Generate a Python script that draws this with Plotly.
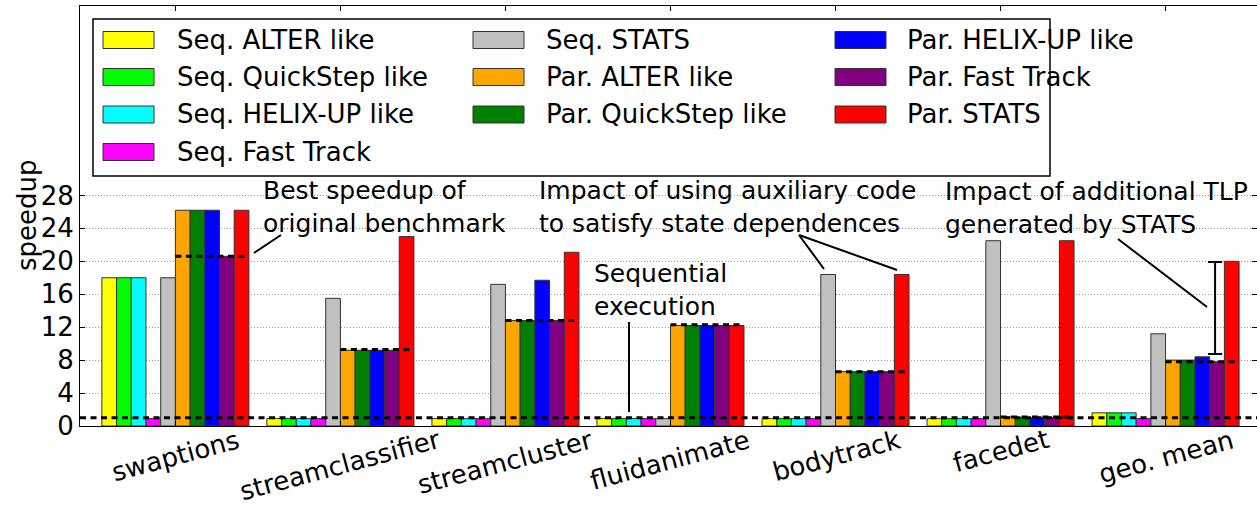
import plotly.graph_objects as go

# ---------------- data ----------------
benchmarks = ["swaptions", "streamclassifier", "streamcluster", "fluidanimate",
              "bodytrack", "facedet", "geo. mean"]
series_names = ["Seq. ALTER like", "Seq. QuickStep like", "Seq. HELIX-UP like",
                "Seq. Fast Track", "Seq. STATS", "Par. ALTER like",
                "Par. QuickStep like", "Par. HELIX-UP like", "Par. Fast Track",
                "Par. STATS"]
series_colors = ["#ffff00", "#00ff00", "#00ffff", "#ff00ff", "#c0c0c0",
                 "#ffa500", "#008000", "#0000ff", "#800080", "#ff0000"]

seq_alter = [18.0, 0.9, 0.9, 0.9, 0.9, 0.9, 1.6]
seq_quickstep = [18.0, 0.9, 0.9, 0.9, 0.9, 0.9, 1.6]
seq_helix = [18.0, 0.9, 0.9, 0.9, 0.9, 0.9, 1.6]
seq_fasttrack = [0.9, 0.9, 0.9, 0.9, 0.9, 0.9, 0.9]
seq_stats = [18.0, 15.5, 17.2, 0.9, 18.4, 22.5, 11.2]
par_alter = [26.2, 9.2, 12.8, 12.2, 6.6, 1.1, 8.0]
par_quickstep = [26.2, 9.2, 12.8, 12.2, 6.6, 1.0, 8.0]
par_helix = [26.2, 9.2, 17.7, 12.2, 6.6, 1.0, 8.4]
par_fasttrack = [20.6, 9.2, 12.8, 12.2, 6.6, 1.0, 7.8]
par_stats = [26.2, 23.0, 21.1, 12.2, 18.4, 22.5, 20.0]

series_values = [seq_alter, seq_quickstep, seq_helix, seq_fasttrack, seq_stats,
                 par_alter, par_quickstep, par_helix, par_fasttrack, par_stats]

original_best = [20.6, 9.3, 12.8, 12.3, 6.6, 1.1, 7.8]   # dashed segments
sequential_baseline = 1.0
tlp_low, tlp_high = 8.75, 19.9                            # I-beam on geo. mean

y_ticks = [0, 4, 8, 12, 16, 20, 24, 28]

# ---------------- layout constants ----------------
W, H = 1257, 506
ML, MR, MT, MB = 80, 0, 6, 80
X_RANGE = [-0.578, 6.554]
Y_RANGE = [0, 51]
FONT = "DejaVu Sans"
BAR_GAP = 0.109
half_group = (1 - BAR_GAP) / 2

pw = W - ML - MR
ph = H - MT - MB


def px2x(px):
    return X_RANGE[0] + (px - ML) / pw * (X_RANGE[1] - X_RANGE[0])


def px2y(py):
    return ((H - MB) - py) / ph * (Y_RANGE[1] - Y_RANGE[0])


def px2paper_x(px):
    return (px - ML) / pw


def px2paper_y(py):
    return ((H - MB) - py) / ph


xs = list(range(len(benchmarks)))

fig = go.Figure()
for name, color, vals in zip(series_names, series_colors, series_values):
    fig.add_trace(go.Bar(x=xs, y=vals, name=name, marker_color=color,
                         marker_line_color="#333333", marker_line_width=1,
                         showlegend=False))

DASH = dict(color="black", width=3, dash="6px,4.5px")
# baseline dashed line at speedup 1
fig.add_trace(go.Scatter(x=X_RANGE, y=[sequential_baseline] * 2, mode="lines",
                         line=DASH, showlegend=False, hoverinfo="skip"))

# dashed segments showing best speedup of original benchmark
for i, v in enumerate(original_best):
    fig.add_trace(go.Scatter(x=[i, i + half_group], y=[v, v], mode="lines",
                             line=DASH, showlegend=False, hoverinfo="skip"))

# I-beam for additional TLP
fig.add_trace(go.Scatter(x=[6.3], y=[(tlp_low + tlp_high) / 2], mode="markers",
                         marker=dict(size=1, color="rgba(0,0,0,0)"),
                         error_y=dict(type="data", array=[(tlp_high - tlp_low) / 2],
                                      color="black", thickness=2, width=7),
                         showlegend=False, hoverinfo="skip"))

annotations = []
# x category labels (rotated, centered)
for i, b in enumerate(benchmarks):
    annotations.append(dict(x=i, y=0, xref="x", yref="paper", text=b,
                            showarrow=False, textangle=-15, xanchor="center",
                            yanchor="top", yshift=3, borderpad=0,
                            font=dict(family=FONT, size=26, color="black")))
# y title
annotations.append(dict(x=px2paper_x(27), y=px2paper_y(215), xref="paper",
                        yref="paper", text="speedup", showarrow=False,
                        textangle=-90, xanchor="center", yanchor="middle",
                        font=dict(family=FONT, size=26, color="black")))

text_font = dict(family=FONT, size=25, color="black")
notes = [
    ("Best speedup of<br>original benchmark", 261, 207),
    ("Impact of using auxiliary code<br>to satisfy state dependences", 537, 207),
    ("Sequential<br>execution", 592, 290),
    ("Impact of additional TLP<br>generated by STATS", 943, 208),
]
for t, px, py in notes:
    annotations.append(dict(x=px2x(px), y=px2y(py), xref="x", yref="y", text=t,
                            showarrow=False, xanchor="left", yanchor="middle",
                            align="left", font=text_font))

shapes = []
lines_px = [
    ((254, 253), (281, 235)),
    ((799, 235), (824, 269)),
    ((799, 235), (897, 270)),
    ((629, 322), (629, 412)),
    ((1118, 239), (1207, 307)),
]
for (x0, y0), (x1, y1) in lines_px:
    shapes.append(dict(type="line", xref="x", yref="y", x0=px2x(x0), y0=px2y(y0),
                       x1=px2x(x1), y1=px2y(y1), line=dict(color="black", width=2)))

# manual legend
shapes.append(dict(type="rect", xref="paper", yref="paper",
                   x0=px2paper_x(93), x1=px2paper_x(1050),
                   y0=px2paper_y(176), y1=px2paper_y(19),
                   line=dict(color="black", width=1.5), fillcolor="white"))
col_sw_x = [103, 473, 835]
col_tx_x = [175, 544, 905]
row_y = [40, 77, 114.5, 152]
col_of = [0, 0, 0, 0, 1, 1, 1, 2, 2, 2]
row_of = [0, 1, 2, 3, 0, 1, 2, 0, 1, 2]
for k, (name, color) in enumerate(zip(series_names, series_colors)):
    c, r = col_of[k], row_of[k]
    sx, cy = col_sw_x[c], row_y[r]
    shapes.append(dict(type="rect", xref="paper", yref="paper",
                       x0=px2paper_x(sx), x1=px2paper_x(sx + 51),
                       y0=px2paper_y(cy + 8.5), y1=px2paper_y(cy - 8.5),
                       line=dict(color="#333333", width=1), fillcolor=color))
    annotations.append(dict(x=px2paper_x(col_tx_x[c]), y=px2paper_y(cy),
                            xref="paper", yref="paper", text=name,
                            showarrow=False, xanchor="left", yanchor="middle",
                            font=dict(family=FONT, size=26, color="black")))

fig.update_layout(
    width=W, height=H, autosize=False,
    margin=dict(l=ML, r=MR, t=MT, b=MB, pad=0),
    barmode="group", bargap=BAR_GAP, bargroupgap=0,
    plot_bgcolor="white", paper_bgcolor="white",
    font=dict(family=FONT, color="black"),
    annotations=annotations, shapes=shapes, showlegend=False,
)
fig.update_xaxes(range=X_RANGE, tickvals=xs, showticklabels=False,
                 ticks="inside", ticklen=5, tickcolor="black",
                 showline=True, linecolor="black", linewidth=1, mirror="ticks",
                 showgrid=False, zeroline=False)
fig.update_yaxes(range=Y_RANGE, tickvals=y_ticks, ticks="inside", ticklen=5,
                 tickcolor="black", tickfont=dict(family=FONT, size=26, color="black"),
                 showline=True, linecolor="black", linewidth=1, mirror="ticks",
                 showgrid=True, gridcolor="#999999", griddash="1px,2px", gridwidth=1,
                 zeroline=False)

fig.write_html("out.html", config={"displayModeBar": False},
               post_script="document.body.style.margin='0';document.body.style.overflow='hidden';")
